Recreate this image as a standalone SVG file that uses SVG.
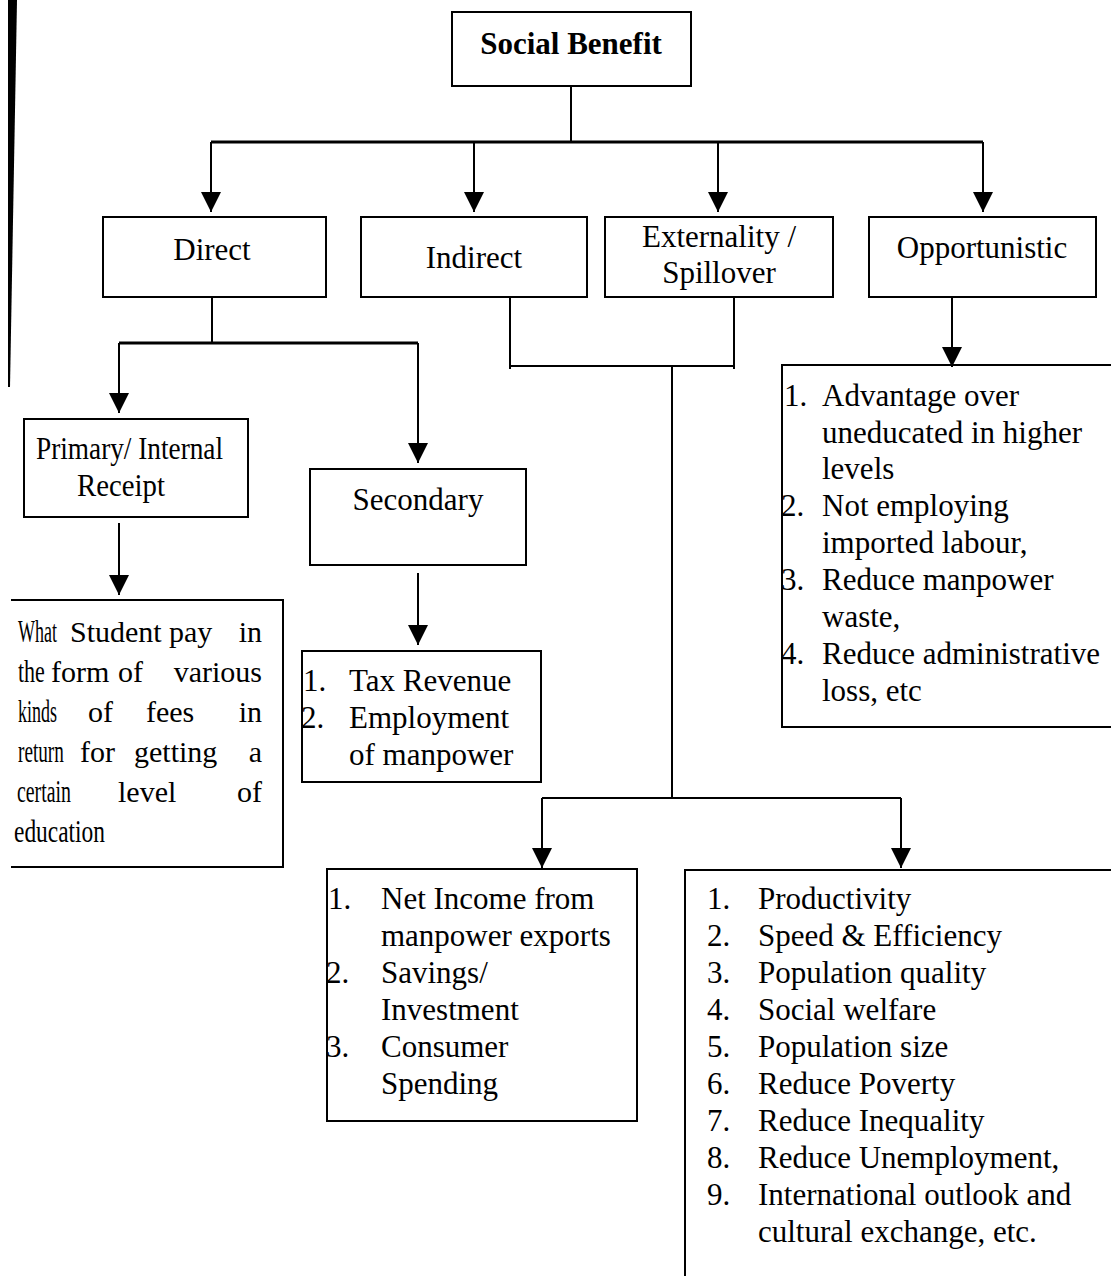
<svg xmlns="http://www.w3.org/2000/svg" width="1111" height="1276" viewBox="0 0 1111 1276">
<style>
.box{fill:none;stroke:#000;stroke-width:2}
.ln{fill:none;stroke:#000;stroke-width:2}
.bus{fill:none;stroke:#000;stroke-width:3}
.t{font-family:"Liberation Serif","Times New Roman",serif;font-size:31px;fill:#000}
.s{font-size:30px}
.e{text-anchor:end}
.c{text-anchor:middle}
.b{font-weight:bold}
</style>
<defs>
<marker id="ah" markerUnits="userSpaceOnUse" markerWidth="20" markerHeight="20" viewBox="0 0 20 20" refX="20" refY="10" orient="auto">
<path d="M0,0 L20,10 L0,20 z" fill="#000"/>
</marker>
</defs>
<rect width="1111" height="1276" fill="#fff"/>
<polygon points="8,0 17,0 10,387 8,387" fill="#000"/>
<g id="connectors">
<path class="ln" d="M571,86 V142"/>
<path class="bus" d="M211,142 H983"/>
<path class="ln" d="M211,142 V212" marker-end="url(#ah)"/>
<path class="ln" d="M474,142 V212" marker-end="url(#ah)"/>
<path class="ln" d="M718,142 V212" marker-end="url(#ah)"/>
<path class="ln" d="M983,142 V212" marker-end="url(#ah)"/>
<path class="ln" d="M212,297 V343"/>
<path class="bus" d="M119,343 H418"/>
<path class="ln" d="M119,343 V413" marker-end="url(#ah)"/>
<path class="ln" d="M418,343 V463" marker-end="url(#ah)"/>
<path class="ln" d="M119,523 V595" marker-end="url(#ah)"/>
<path class="ln" d="M418,573 V645" marker-end="url(#ah)"/>
<path class="ln" d="M510,297 V369 M734,297 V369"/>
<path class="ln" d="M510,366 H734"/>
<path class="ln" d="M672,366 V798"/>
<path class="ln" d="M542,798 H901"/>
<path class="ln" d="M542,798 V868" marker-end="url(#ah)"/>
<path class="ln" d="M901,798 V868" marker-end="url(#ah)"/>
<path class="ln" d="M952,297 V367" marker-end="url(#ah)"/>
</g>
<g id="social">
<rect class="box" x="452" y="12" width="239" height="74"/>
<text class="t c b" x="571" y="54">Social Benefit</text>
</g>
<g id="direct">
<rect class="box" x="103" y="217" width="223" height="80"/>
<text class="t c" x="212" y="260">Direct</text>
</g>
<g id="indirect">
<rect class="box" x="361" y="217" width="226" height="80"/>
<text class="t c" x="474" y="268">Indirect</text>
</g>
<g id="externality">
<rect class="box" x="605" y="217" width="228" height="80"/>
<text class="t c" x="719" y="247">Externality /</text>
<text class="t c" x="719" y="283">Spillover</text>
</g>
<g id="opportunistic">
<rect class="box" x="869" y="217" width="227" height="80"/>
<text class="t c" x="982" y="258">Opportunistic</text>
</g>
<g id="primary">
<rect class="box" x="24" y="419" width="224" height="98"/>
<text class="t" transform="translate(36,459) scale(0.88,1)">Primary/ Internal</text>
<text class="t" transform="translate(77,496) scale(0.93,1)">Receipt</text>
</g>
<g id="student">
<path class="box" d="M11,600 H283 V867 H11"/>
<text class="t" transform="translate(18,642) scale(0.58,1)">What</text>
<text class="t s" x="70" y="642">Student</text>
<text class="t s" x="169" y="642">pay</text>
<text class="t s e" x="262" y="642">in</text>
<text class="t" transform="translate(18,682) scale(0.71,1)">the</text>
<text class="t s" x="51" y="682">form</text>
<text class="t s" x="118" y="682">of</text>
<text class="t s e" x="262" y="682">various</text>
<text class="t" transform="translate(18,722) scale(0.58,1)">kinds</text>
<text class="t s" x="88" y="722">of</text>
<text class="t s" x="146" y="722">fees</text>
<text class="t s e" x="262" y="722">in</text>
<text class="t" transform="translate(18,762) scale(0.62,1)">return</text>
<text class="t s" x="80" y="762">for</text>
<text class="t s" x="134" y="762">getting</text>
<text class="t s e" x="262" y="762">a</text>
<text class="t" transform="translate(17,802) scale(0.64,1)">certain</text>
<text class="t s" x="118" y="802">level</text>
<text class="t s e" x="262" y="802">of</text>
<text class="t" transform="translate(14,842) scale(0.755,1)">education</text>
</g>
<g id="secondary">
<rect class="box" x="310" y="469" width="216" height="96"/>
<text class="t c" x="418" y="510">Secondary</text>
</g>
<g id="tax">
<rect class="box" x="302" y="651" width="239" height="131"/>
<text class="t" x="303" y="691">1.</text><text class="t" x="349" y="691">Tax Revenue</text>
<text class="t" x="301" y="728">2.</text><text class="t" x="349" y="728">Employment</text>
<text class="t" x="349" y="765">of manpower</text>
</g>
<g id="opportunistic-list">
<rect class="box" x="782" y="365" width="340" height="362"/>
<text class="t" x="784" y="406">1.</text><text class="t" x="822" y="406">Advantage over</text>
<text class="t" x="822" y="443">uneducated in higher</text>
<text class="t" x="822" y="479">levels</text>
<text class="t" x="781" y="516">2.</text><text class="t" x="822" y="516">Not employing</text>
<text class="t" x="822" y="553">imported labour,</text>
<text class="t" x="781" y="590">3.</text><text class="t" x="822" y="590">Reduce manpower</text>
<text class="t" x="822" y="627">waste,</text>
<text class="t" x="781" y="664">4.</text><text class="t" x="822" y="664">Reduce administrative</text>
<text class="t" x="822" y="701">loss, etc</text>
</g>
<g id="indirect-list">
<rect class="box" x="327" y="869" width="310" height="252"/>
<text class="t" x="328" y="909">1.</text><text class="t" x="381" y="909">Net Income from</text>
<text class="t" x="381" y="946">manpower exports</text>
<text class="t" x="326" y="983">2.</text><text class="t" x="381" y="983">Savings/</text>
<text class="t" x="381" y="1020">Investment</text>
<text class="t" x="326" y="1057">3.</text><text class="t" x="381" y="1057">Consumer</text>
<text class="t" x="381" y="1094">Spending</text>
</g>
<g id="externality-list">
<path class="box" d="M685,1276 V870 H1115"/>
<text class="t" x="707" y="909">1.</text><text class="t" x="758" y="909">Productivity</text>
<text class="t" x="707" y="946">2.</text><text class="t" x="758" y="946">Speed &amp; Efficiency</text>
<text class="t" x="707" y="983">3.</text><text class="t" x="758" y="983">Population quality</text>
<text class="t" x="707" y="1020">4.</text><text class="t" x="758" y="1020">Social welfare</text>
<text class="t" x="707" y="1057">5.</text><text class="t" x="758" y="1057">Population size</text>
<text class="t" x="707" y="1094">6.</text><text class="t" x="758" y="1094">Reduce Poverty</text>
<text class="t" x="707" y="1131">7.</text><text class="t" x="758" y="1131">Reduce Inequality</text>
<text class="t" x="707" y="1168">8.</text><text class="t" x="758" y="1168">Reduce Unemployment,</text>
<text class="t" x="707" y="1205">9.</text><text class="t" x="758" y="1205">International outlook and</text>
<text class="t" x="758" y="1242">cultural exchange, etc.</text>
</g>
</svg>
